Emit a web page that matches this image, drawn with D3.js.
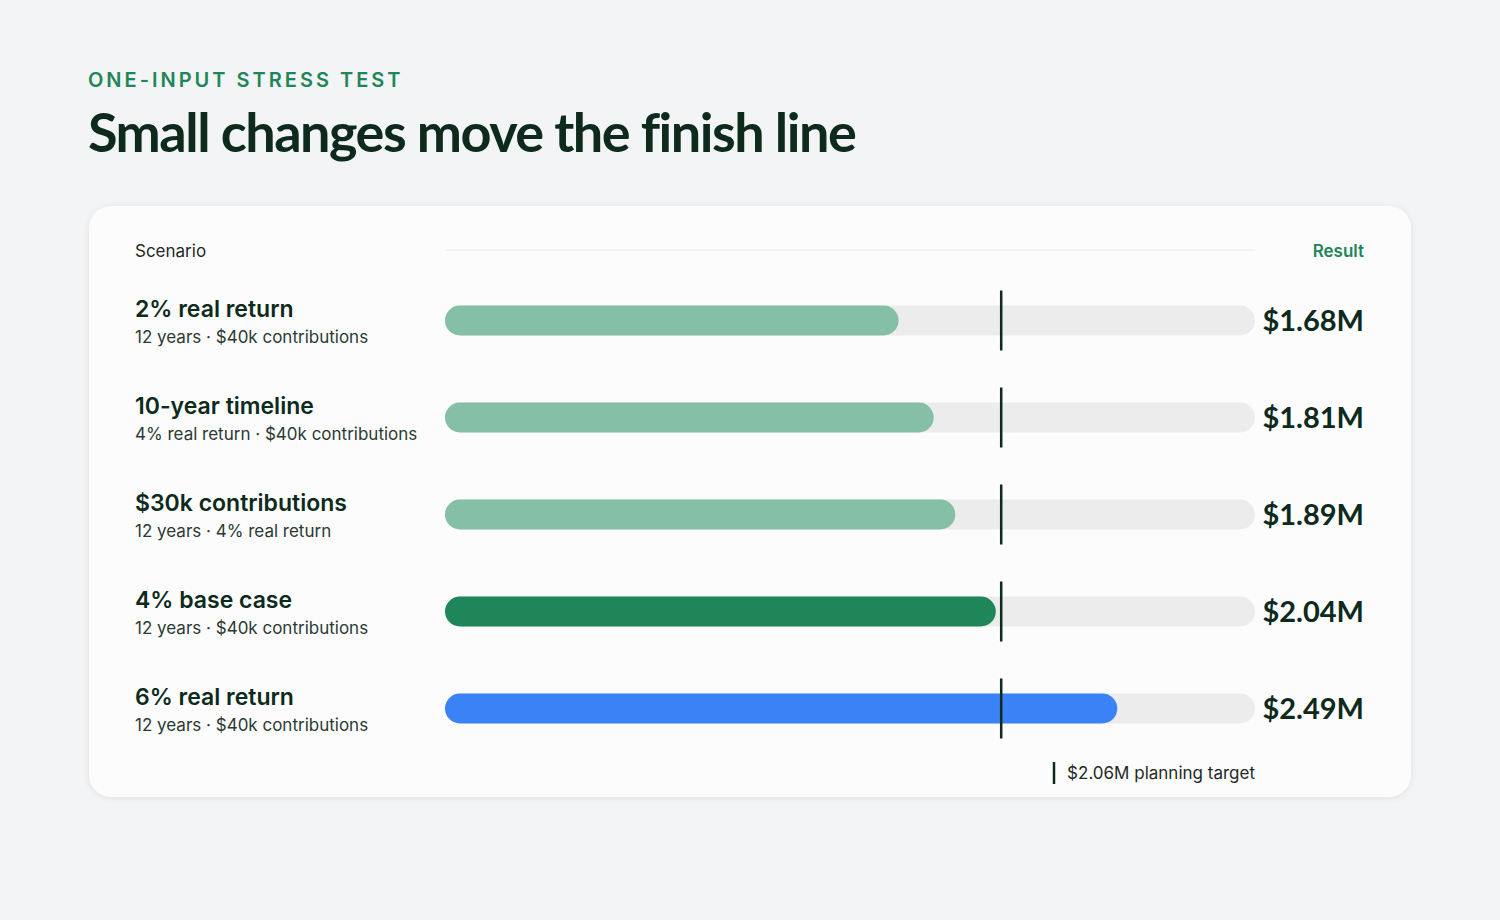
<!DOCTYPE html>
<html>
<head>
<meta charset="utf-8">
<script src="https://cdn.jsdelivr.net/npm/d3@7"></script>
<style>
  body { margin: 0; background: #f3f4f6; }
  svg { display: block; }
</style>
</head>
<body>
<svg id="chart" width="1500" height="920"></svg>
<script>
const scenarios = ["2% real return", "10-year timeline", "$30k contributions", "4% base case", "6% real return"];
const details = ["12 years · $40k contributions", "4% real return · $40k contributions", "12 years · 4% real return", "12 years · $40k contributions", "12 years · $40k contributions"];
const results = [1.68, 1.81, 1.89, 2.04, 2.49];
const kinds = ["stress", "stress", "stress", "base", "upside"];
const target = 2.06;

const colors = { stress: "#84bfa6", base: "#1f8659", upside: "#3b82f6" };
const svg = d3.select("#chart");
const dark = "#0d2a1c";

// Header
svg.append("text").attr("x", 88).attr("y", 87)
    .attr("font-family", "Inter").attr("font-weight", 600).attr("font-size", 20)
    .attr("letter-spacing", 3).attr("fill", "#1f8659").text("ONE-INPUT STRESS TEST");
svg.append("text").attr("x", 88).attr("y", 152)
    .attr("font-family", "Lato").attr("font-weight", 700).attr("font-size", 54)
    .attr("letter-spacing", -1.5).attr("fill", dark).text("Small changes move the finish line");

// Card
svg.append("rect").attr("x", 89).attr("y", 206).attr("width", 1322).attr("height", 591)
    .attr("rx", 22).attr("fill", "#fcfcfc")
    .style("filter", "drop-shadow(0 1px 3px rgba(0,0,0,0.08))");

const x = d3.scaleLinear().domain([0, 3]).range([445, 1255]);
const y = d3.scaleBand().domain(scenarios).range([272, 757]).paddingInner(0);
const barH = 30;

// Column headers
svg.append("text").attr("x", 135).attr("y", 257).attr("font-family", "Inter")
    .attr("font-size", 17).attr("fill", "#1f2a24").text("Scenario");
svg.append("text").attr("x", 1364).attr("y", 257).attr("text-anchor", "end")
    .attr("font-family", "Inter").attr("font-weight", 600).attr("font-size", 17)
    .attr("fill", "#1f8659").text("Result");
svg.append("line").attr("x1", x(0)).attr("x2", x(3)).attr("y1", 250).attr("y2", 250)
    .attr("stroke", "#ececec");

const rows = svg.selectAll("g.row").data(scenarios).join("g")
    .attr("class", "row")
    .attr("transform", d => `translate(0, ${y(d) + y.bandwidth() / 2})`);

rows.append("text").attr("x", 135).attr("y", -4).attr("font-family", "Inter")
    .attr("font-weight", 600).attr("font-size", 23).attr("fill", dark).text(d => d);
rows.append("text").attr("x", 135).attr("y", 22).attr("font-family", "Inter")
    .attr("font-size", 17).attr("fill", "#2b3a33").text((d, i) => details[i]);

rows.append("rect").attr("x", x(0)).attr("y", -barH / 2).attr("width", x(3) - x(0))
    .attr("height", barH).attr("rx", barH / 2).attr("fill", "#ececec");
rows.append("rect").attr("x", x(0)).attr("y", -barH / 2)
    .attr("width", (d, i) => x(results[i]) - x(0))
    .attr("height", barH).attr("rx", barH / 2).attr("fill", (d, i) => colors[kinds[i]]);
rows.append("line").attr("x1", x(target)).attr("x2", x(target)).attr("y1", -30).attr("y2", 30)
    .attr("stroke", dark).attr("stroke-width", 2.5);
rows.append("text").attr("x", 1364).attr("y", 10).attr("text-anchor", "end")
    .attr("font-family", "Lato").attr("font-weight", 700).attr("font-size", 29)
    .attr("fill", dark).text((d, i) => `$${results[i].toFixed(2)}M`);

// Target legend
svg.append("line").attr("x1", 1054).attr("x2", 1054).attr("y1", 762).attr("y2", 784)
    .attr("stroke", dark).attr("stroke-width", 2.5);
svg.append("text").attr("x", 1255).attr("y", 779).attr("text-anchor", "end")
    .attr("font-family", "Inter").attr("font-size", 17).attr("fill", "#1f2a24")
    .text(`$${target.toFixed(2)}M planning target`);
</script>
</body>
</html>
